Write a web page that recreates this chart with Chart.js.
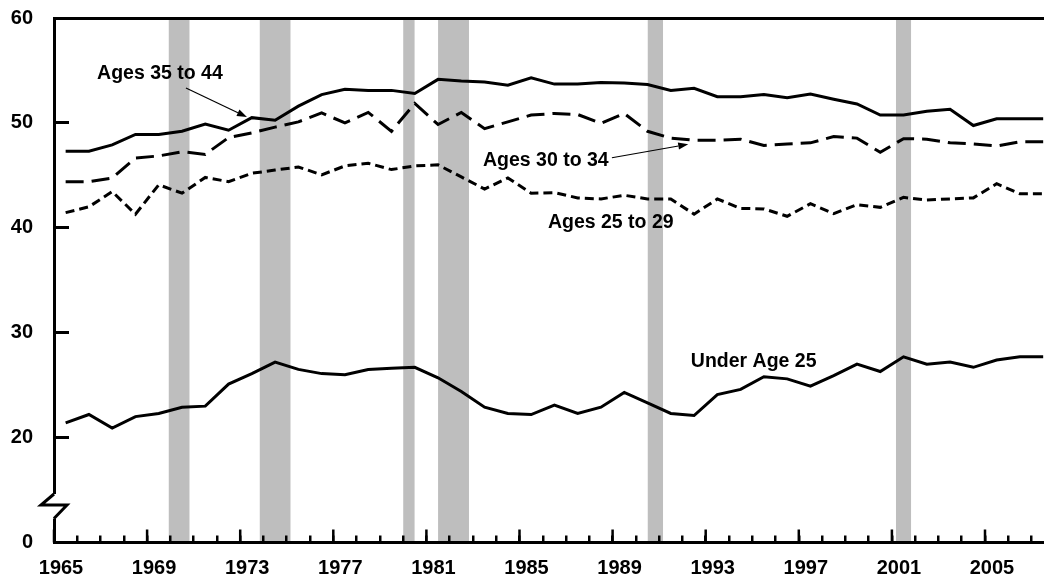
<!DOCTYPE html>
<html><head><meta charset="utf-8">
<script src="https://cdn.jsdelivr.net/npm/chart.js@4.4.1/dist/chart.umd.min.js"></script>
<style>html,body{margin:0;padding:0;background:#fff;overflow:hidden}#wrap{width:1044px;height:579px;position:relative}</style>
</head><body><div id="wrap"><canvas id="c"></canvas></div>
<script>
const years = [1965,1966,1967,1968,1969,1970,1971,1972,1973,1974,1975,1976,1977,1978,1979,1980,1981,1982,1983,1984,1985,1986,1987,1988,1989,1990,1991,1992,1993,1994,1995,1996,1997,1998,1999,2000,2001,2002,2003,2004,2005,2006,2007];
const ages35to44 = [47.3,47.3,47.9,48.9,48.9,49.2,49.9,49.3,50.5,50.25,51.6,52.7,53.2,53.1,53.1,52.8,54.15,54.0,53.9,53.6,54.3,53.7,53.7,53.85,53.8,53.65,53.1,53.3,52.5,52.5,52.7,52.4,52.75,52.25,51.8,50.75,50.75,51.1,51.3,49.75,50.4,50.4,50.4];
const ages30to34 = [44.4,44.4,44.75,46.65,46.85,47.25,47.0,48.6,49.05,49.6,50.1,50.95,50.0,51.0,49.2,51.85,49.85,51.0,49.45,50.1,50.75,50.9,50.8,49.95,50.9,49.2,48.55,48.35,48.35,48.45,47.85,48.0,48.1,48.7,48.55,47.2,48.5,48.45,48.1,48.0,47.8,48.2,48.2];
const ages25to29 = [41.45,42.0,43.45,41.3,44.1,43.3,44.8,44.4,45.2,45.5,45.8,45.05,45.9,46.15,45.55,45.9,46.0,44.85,43.7,44.75,43.3,43.35,42.85,42.75,43.1,42.75,42.75,41.3,42.75,41.85,41.8,41.1,42.3,41.35,42.2,41.95,42.9,42.65,42.75,42.85,44.2,43.25,43.25];
const under25 = [21.4,22.2,20.9,22.0,22.3,22.9,23.0,25.1,26.1,27.2,26.5,26.1,26.0,26.5,26.6,26.7,25.7,24.4,22.9,22.3,22.2,23.1,22.3,22.9,24.3,23.3,22.3,22.1,24.1,24.6,25.8,25.6,24.9,25.9,27.0,26.3,27.7,27.0,27.2,26.7,27.4,27.7,27.7];
const recessionStart = [1969.92,1973.83,1980.0,1981.5,1990.5,2001.17];
const recessionEnd = [1970.83,1975.17,1980.5,1982.83,1991.17,2001.83];
const yTicks = [10,20,30,40,50,60];
const yTickLabels = ['0','20','30','40','50','60'];
const xLabelYears = [1965,1969,1973,1977,1981,1985,1989,1993,1997,2001,2005];
const seriesNames = ['Ages 35 to 44','Ages 30 to 34','Ages 25 to 29','Under Age 25'];

const FONT = '"Liberation Sans", Arial, sans-serif';
const toPts = arr => years.map((yr, i) => ({x: yr + 0.5, y: arr[i]}));

const lineDs = (name, arr, dash) => ({
  label: name, data: toPts(arr), borderColor: '#000', borderWidth: 3,
  borderDash: dash, pointRadius: 0, fill: false, tension: 0, borderJoinStyle: 'miter'
});

const recessionDs = recessionStart.map((s, i) => ({
  label: 'Recession', data: [{x: s, y: 60}, {x: recessionEnd[i], y: 60}],
  fill: 'start', backgroundColor: '#bebebe', borderWidth: 0, pointRadius: 0
}));

// annotation anchors in data coordinates
const notes = [
  {text: seriesNames[0], x: 1966.85, y: 54.18, arrow: [1970.67, 53.33, 1973.29, 50.56]},
  {text: seriesNames[1], x: 1983.43, y: 45.89, arrow: [1988.97, 46.68, 1992.25, 47.96]},
  {text: seriesNames[2], x: 1986.22, y: 39.98},
  {text: seriesNames[3], x: 1992.36, y: 26.76}
];

const decor = {
  id: 'decor',
  afterDraw(chart) {
    const {ctx, chartArea: a, scales: {x, y}} = chart;
    ctx.save();
    // major x ticks (every 4 years)
    ctx.strokeStyle = '#000'; ctx.lineWidth = 2.5;
    xLabelYears.forEach(v => {
      const px = x.getPixelForValue(v);
      ctx.beginPath(); ctx.moveTo(px, a.bottom); ctx.lineTo(px, a.bottom - 13); ctx.stroke();
    });
    // axis break
    const bTop = a.bottom - 48.5, bBot = a.bottom - 24;
    ctx.fillStyle = '#fff';
    ctx.fillRect(a.left - 3, bTop, 6, bBot - bTop);
    ctx.lineWidth = 3; ctx.lineJoin = 'miter';
    ctx.beginPath();
    ctx.moveTo(a.left, bTop);
    ctx.lineTo(a.left - 13, bTop + 11);
    ctx.lineTo(a.left + 13, bTop + 11);
    ctx.lineTo(a.left, bBot);
    ctx.stroke();
    // annotations
    ctx.fillStyle = '#000';
    ctx.font = 'bold 19.5px ' + FONT;
    ctx.textAlign = 'left'; ctx.textBaseline = 'alphabetic';
    notes.forEach(n => {
      ctx.fillText(n.text, x.getPixelForValue(n.x), y.getPixelForValue(n.y));
      if (n.arrow) {
        const x1 = x.getPixelForValue(n.arrow[0]), y1 = y.getPixelForValue(n.arrow[1]);
        const x2 = x.getPixelForValue(n.arrow[2]), y2 = y.getPixelForValue(n.arrow[3]);
        const ang = Math.atan2(y2 - y1, x2 - x1);
        const hl = 10, hw = 3.5;
        const bx = x2 - hl * Math.cos(ang), by = y2 - hl * Math.sin(ang);
        ctx.lineWidth = 1.2;
        ctx.beginPath(); ctx.moveTo(x1, y1); ctx.lineTo(bx, by); ctx.stroke();
        ctx.beginPath();
        ctx.moveTo(x2, y2);
        ctx.lineTo(bx + hw * Math.sin(ang), by - hw * Math.cos(ang));
        ctx.lineTo(bx - hw * Math.sin(ang), by + hw * Math.cos(ang));
        ctx.closePath(); ctx.fill();
      }
    });
    ctx.restore();
  }
};

const noPad = s => { s.paddingTop = 0; s.paddingBottom = 0; s.paddingLeft = 0; s.paddingRight = 0; };

new Chart(document.getElementById('c'), {
  type: 'line',
  data: {
    datasets: [
      lineDs(seriesNames[0], ages35to44, []),
      lineDs(seriesNames[1], ages30to34, [18, 8]),
      lineDs(seriesNames[2], ages25to29, [9, 5]),
      lineDs(seriesNames[3], under25, []),
      ...recessionDs
    ]
  },
  options: {
    responsive: true, maintainAspectRatio: false, animation: false, devicePixelRatio: 1,
    layout: {padding: {top: 18, left: 0, right: 0, bottom: 0}},
    plugins: {legend: {display: false}, tooltip: {enabled: false}},
    scales: {
      x: {
        type: 'linear', min: 1965, max: 2007.535,
        afterBuildTicks: s => { s.ticks = years.map(v => ({value: v})); },
        afterFit: s => { s.height = 36.5; noPad(s); },
        grid: {display: true, drawOnChartArea: false, drawTicks: true, tickLength: -7, lineWidth: 2.5, color: '#000', z: 1},
        border: {display: true, width: 3, color: '#000', z: 1},
        ticks: {autoSkip: false, maxRotation: 0, minRotation: 0, padding: 21, labelOffset: 7, color: '#000',
          font: {family: FONT, size: 20, weight: 'bold'},
          callback: v => xLabelYears.includes(v) ? String(v) : ''}
      },
      x2: {
        type: 'linear', position: 'top', min: 1965, max: 2007.535,
        afterFit: s => { s.height = 0; noPad(s); },
        grid: {display: false, drawTicks: false},
        border: {display: true, width: 3, color: '#000', z: 1},
        ticks: {display: false}
      },
      y: {
        type: 'linear', min: 10, max: 60,
        afterBuildTicks: s => { s.ticks = yTicks.map(v => ({value: v})); },
        afterFit: s => { s.width = 54; noPad(s); },
        grid: {display: true, drawOnChartArea: false, drawTicks: true, tickLength: -15,
          lineWidth: c => (c.tick && c.tick.value > 10 && c.tick.value < 60) ? 3 : 0, color: '#000', z: 1},
        border: {display: true, width: 3, color: '#000', z: 1},
        ticks: {padding: 36, color: '#000', font: {family: FONT, size: 20, weight: 'bold'},
          callback: v => yTickLabels[yTicks.indexOf(v)]}
      }
    }
  },
  plugins: [decor]
});
</script></body></html>
